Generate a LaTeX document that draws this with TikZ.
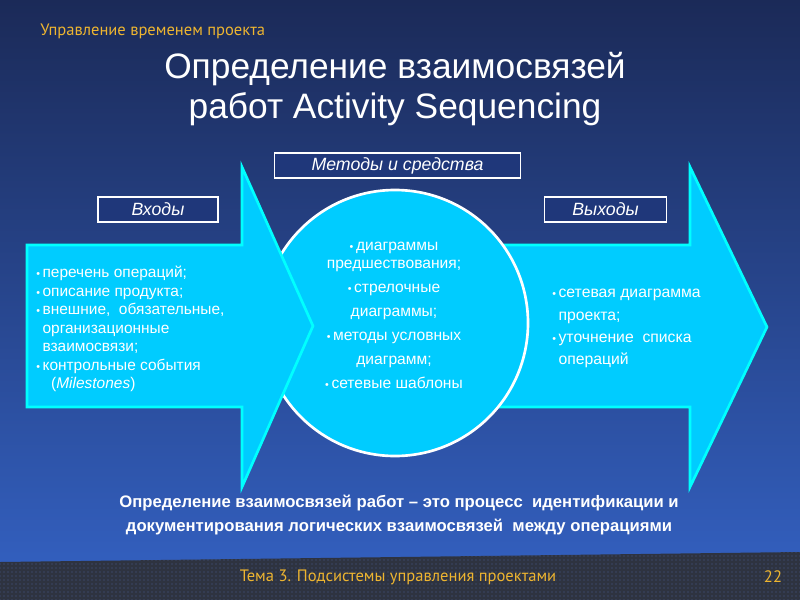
\documentclass[tikz,border=0pt]{standalone}
\usepackage{fontspec}
\setmainfont{Liberation Sans}
\newfontfamily\ptsans{PT Sans}
\usetikzlibrary{positioning,patterns}
\definecolor{bgtop}{HTML}{1B2A58}
\definecolor{bgbot}{HTML}{3462C4}
\definecolor{arrfill}{HTML}{00CCFF}
\definecolor{arredge}{HTML}{00FFFF}
\definecolor{goldtxt}{HTML}{EEB530}
\definecolor{boxfill}{HTML}{1F377A}
\definecolor{footgray}{HTML}{2E3340}
\definecolor{footdot}{HTML}{4A5C90}
\newcommand{\bul}{{\footnotesize\textbullet}\,}

\begin{document}
\begin{tikzpicture}[x=0.75pt, y=-0.75pt,
    bigarrow/.style={fill=arrfill, draw=arredge, line width=2pt, line join=miter},
    lbl/.style={draw=white, line width=0.8pt, fill=boxfill, text=white, font=\fontsize{13.3}{15}\selectfont\itshape, minimum height=18.75pt, inner sep=0pt},
    blist/.style={text=white, font=\fontsize{11.6}{13.9}\selectfont, align=left, inner sep=0pt},
    gold/.style={text=goldtxt, font=\ptsans\fontsize{12.4}{14}\selectfont, inner sep=0pt}]
  % ---------------- background and footer ----------------
  \shade[top color=bgtop, bottom color=bgbot] (0,0) rectangle (800,600);
  \fill[footgray] (0,562) -- (800,552) -- (800,600) -- (0,600) -- cycle;
  \fill[pattern=dots, pattern color=footdot] (0,562) -- (800,552) -- (800,600) -- (0,600) -- cycle;
  % ---------------- headings ----------------
  \node[gold, anchor=west] (topic) at (40,31) {Управление временем проекта};
  \node[text=white, font=\fontsize{26.5}{30}\selectfont, align=center, inner sep=0pt] (title) at (395,89)
     {Определение взаимосвязей\\ работ Activity Sequencing};
  % ---------------- outputs arrow, tools circle, inputs arrow ----------------
  \draw[bigarrow] (400,245) -- (690,245) -- (690,167) -- (767,327) -- (690,487) -- (690,407) -- (400,407) -- cycle;
  \node[circle, fill=arrfill, draw=white, line width=2pt, minimum size=199.5pt] (tools) at (395,323) {};
  \draw[bigarrow] (27,245) -- (242,245) -- (242,167) -- (313,326) -- (242,487) -- (242,407) -- (27,407) -- cycle;
  % ---------------- box labels ----------------
  \node[lbl, minimum width=185pt] (toolslbl) at (397.5,165.5) {Методы и средства};
  \node[lbl, minimum width=90pt] (inlbl) at (158,209.5) {Входы};
  \node[lbl, minimum width=91pt] (outlbl) at (605.5,209.5) {Выходы};
  % ---------------- texts inside ----------------
  \node[blist, anchor=north west] (inputs) at (36,266)
     {\bul перечень операций;\\
      \bul описание продукта;\\
      \bul внешние,\ \ обязательные,\\
      \hphantom{\bul}организационные\\
      \hphantom{\bul}взаимосвязи;\\
      \bul контрольные события\\
      \hphantom{\bul}\ \ (\textit{Milestones})};
  \node[blist, align=center, font=\fontsize{11.7}{18}\selectfont] (methods) at (394,315)
     {\bul диаграммы\\[-4.5pt]
      предшествования;\\
      \bul стрелочные\\
      диаграммы;\\
      \bul методы условных\\
      диаграмм;\\
      \bul сетевые шаблоны};
  \node[blist, font=\fontsize{11.8}{16.7}\selectfont, anchor=north west] (outputs) at (552,289)
     {\bul сетевая диаграмма\\
      \hphantom{\bul}проекта;\\
      \bul уточнение\ \ списка\\
      \hphantom{\bul}операций};
  % ---------------- definition and footer ----------------
  \node[text=white, font=\fontsize{12.5}{18}\bfseries, align=center, inner sep=0pt] (defn) at (399,515)
     {Определение взаимосвязей работ -- это процесс\ \ идентификации и\\
      документирования логических взаимосвязей\ \ между операциями};
  \node[gold] (theme) at (398,577) {Тема 3. Подсистемы управления проектами};
  \node[gold] (pageno) at (773,577) {22};
\end{tikzpicture}
\end{document}
